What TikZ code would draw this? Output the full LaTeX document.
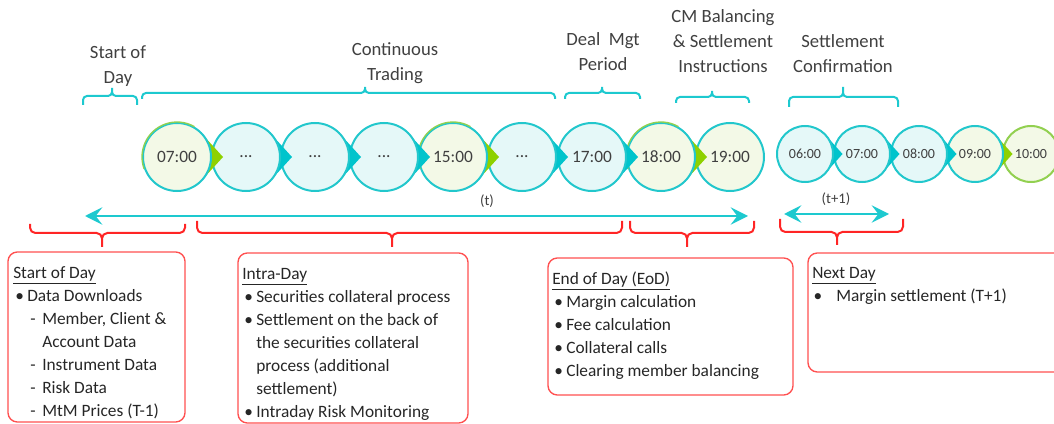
\documentclass[tikz,border=0pt]{standalone}
\usepackage{fontspec}
\setmainfont{Carlito}
\usetikzlibrary{arrows.meta,fit}

\definecolor{txtgray}{HTML}{404040}
\definecolor{txtdark}{HTML}{262626}
\definecolor{ringcyn}{HTML}{22C7CC}
\definecolor{ptrcyn}{HTML}{00C4CC}
\definecolor{fillcyn}{HTML}{E5F8F8}
\definecolor{fillgrn}{HTML}{F3F9E7}
\definecolor{ptrgrn}{HTML}{8ED100}
\definecolor{ringgrn}{HTML}{92D050}
\definecolor{bracecyn}{HTML}{1DC9CF}
\definecolor{bracered}{HTML}{FF2525}
\definecolor{boxred}{HTML}{FF5050}

\newcommand{\bitem}[1]{\hspace*{1.5pt}\makebox[9pt][l]{•}#1}
\newcommand{\ditem}[1]{\hspace*{12.75pt}\makebox[9pt][l]{-}#1}
\newcommand{\tgap}{...}

\tikzset{
  hdr/.style={align=center, font=\fontsize{14}{18.75}\selectfont, text=txtgray},
  tlabel/.style={font=\fontsize{13}{15}\selectfont, text=txtgray},
  slabel/.style={font=\fontsize{10.5}{12}\selectfont, text=txtgray},
  alabel/.style={font=\fontsize{11}{13}\selectfont, text=txtgray},
  cbrace/.style={draw=bracecyn, line width=1.5pt, rounded corners=3pt},
  rbrace/.style={draw=bracered, line width=1.5pt, rounded corners=4pt},
  tarrow/.style={draw=bracecyn, line width=1.5pt, {Stealth[length=13pt,width=13pt,inset=5pt]}-{Stealth[length=13pt,width=13pt,inset=5pt]}},
  redbox/.style={draw=boxred, line width=1pt, rounded corners=7pt, inner sep=0pt},
  boxtxt/.style={align=left, font=\fontsize{13}{17.25}\selectfont, text=txtdark, inner sep=0pt, anchor=north west},
}

\begin{document}
\begin{tikzpicture}[x=0.75pt, y=-0.75pt]
  \useasboundingbox (0,0) rectangle (1054,424);

  % day (t): drawn right to left so each pointer lies over the next circle
  \foreach \cx/\lab/\fc/\pc/\ec in {730/19:00/fillgrn/none/none, 661/18:00/fillgrn/ptrgrn/ringgrn, 592/17:00/fillcyn/ptrcyn/none, 522/\tgap/fillcyn/ptrcyn/none, 453/15:00/fillgrn/ptrgrn/ringgrn, 384/\tgap/fillcyn/ptrcyn/none, 315/\tgap/fillcyn/ptrcyn/none, 246/\tgap/fillcyn/ptrcyn/none, 177/07:00/fillgrn/ptrgrn/ringgrn}{
    \begin{scope}[shift={(\cx,157)}]
      \path[fill=\pc] (0:46) -- (42:34) -- (0,0) -- (-42:34) -- cycle;
      \draw[draw=ringcyn, line width=1.5pt, fill=\fc] (0,0) circle (34);
      \draw[draw=\ec, line width=1pt] (160:35) arc (160:300:35);
      \node[tlabel] (t\cx) at (0,0) {\lab};
    \end{scope}
  }

  % day (t+1)
  \foreach \cx/\lab/\fc/\pc/\rc in {1031/10:00/fillgrn/none/ringgrn, 975/09:00/fillgrn/ptrgrn/ringcyn, 919/08:00/fillcyn/ptrcyn/ringcyn, 862/07:00/fillcyn/ptrcyn/ringcyn, 805/06:00/fillcyn/ptrcyn/ringcyn}{
    \begin{scope}[shift={(\cx,154)}]
      \path[fill=\pc] (0:37.5) -- (42:28) -- (0,0) -- (-42:28) -- cycle;
      \draw[draw=\rc, line width=1.5pt, fill=\fc] (0,0) circle (28);
      \node[slabel] (n\cx) at (0,0) {\lab};
    \end{scope}
  }

  % phases
  \node[hdr] (sodhdr) at (118,66) {Start of\\Day};
  \node[hdr] (cthdr) at (395,63) {Continuous\\Trading};
  \node[hdr] (dmhdr) at (603,52) {Deal\ \ Mgt\\Period};
  \node[hdr] (cmhdr) at (723,41) {CM Balancing\\\& Settlement\\Instructions};
  \node[hdr] (schdr) at (843,54) {Settlement\\Confirmation};

  \foreach \xa/\xt/\xb/\yl/\ye/\yt in {83/112/137/96/105/88, 142/365/555/93/99/87, 565/602/640/93/99/87, 676/712/749/97/103/91, 789/843/898/97/107/87}
    \draw[cbrace] (\xa,\ye) -- (\xa,\yl) -- (\xt,\yl) -- (\xt,\yt)
                  (\xb,\ye) -- (\xb,\yl) -- (\xt,\yl) -- (\xt,\yt);

  % time spans
  \coordinate (tL) at (85,216);
  \coordinate (tR) at (748,216);
  \draw[tarrow] (tL) -- (tR);
  \node[alabel] (tlab) at (487,201) {(t)};
  \coordinate (nL) at (784,214);
  \coordinate (nR) at (889,214);
  \draw[tarrow] (nL) -- (nR);
  \node[alabel] (nlab) at (836,199) {(t+1)};

  \foreach \xa/\xt/\xb/\yl/\ye/\yt in {30/102/185/233/224/247, 197/392/622/233/221/247, 630/687/754/233/221/247, 780/837/903/232/219/245}
    \draw[rbrace] (\xa,\ye) -- (\xa,\yl) -- (\xt,\yl) -- (\xt,\yt)
                  (\xb,\ye) -- (\xb,\yl) -- (\xt,\yl) -- (\xt,\yt);

  % activities
  \node[redbox, fit={(8,252) (185,422)}] (sodbox) {};
  \node[boxtxt] (sodtxt) at (13,266) {\underline{Start of Day}\\
    \bitem{Data Downloads}\\
    \ditem{Member, Client \&}\\
    \hspace*{21.75pt}Account Data\\
    \ditem{Instrument Data}\\
    \ditem{Risk Data}\\
    \ditem{MtM Prices (T-1)}};

  \node[redbox, fit={(238,253) (468,423)}] (idbox) {};
  \node[boxtxt] (idtxt) at (242,268) {\underline{Intra-Day}\\
    \bitem{Securities collateral process}\\
    \bitem{Settlement on the back of}\\
    \hspace*{10.5pt}the securities collateral\\
    \hspace*{10.5pt}process (additional\\
    \hspace*{10.5pt}settlement)\\
    \bitem{Intraday Risk Monitoring}};

  \node[redbox, fit={(548,258) (793,395)}] (eodbox) {};
  \node[boxtxt] (eodtxt) at (552,272) {\underline{End of Day (EoD)}\\
    \bitem{Margin calculation}\\
    \bitem{Fee calculation}\\
    \bitem{Collateral calls}\\
    \bitem{Clearing member balancing}};

  \node[redbox, fit={(808,253) (1064,372)}] (ndbox) {};
  \node[boxtxt] (ndtxt) at (812,267) {\underline{Next Day}\\
    \hspace*{1pt}\makebox[17pt][l]{•}Margin settlement (T+1)};
\end{tikzpicture}
\end{document}
